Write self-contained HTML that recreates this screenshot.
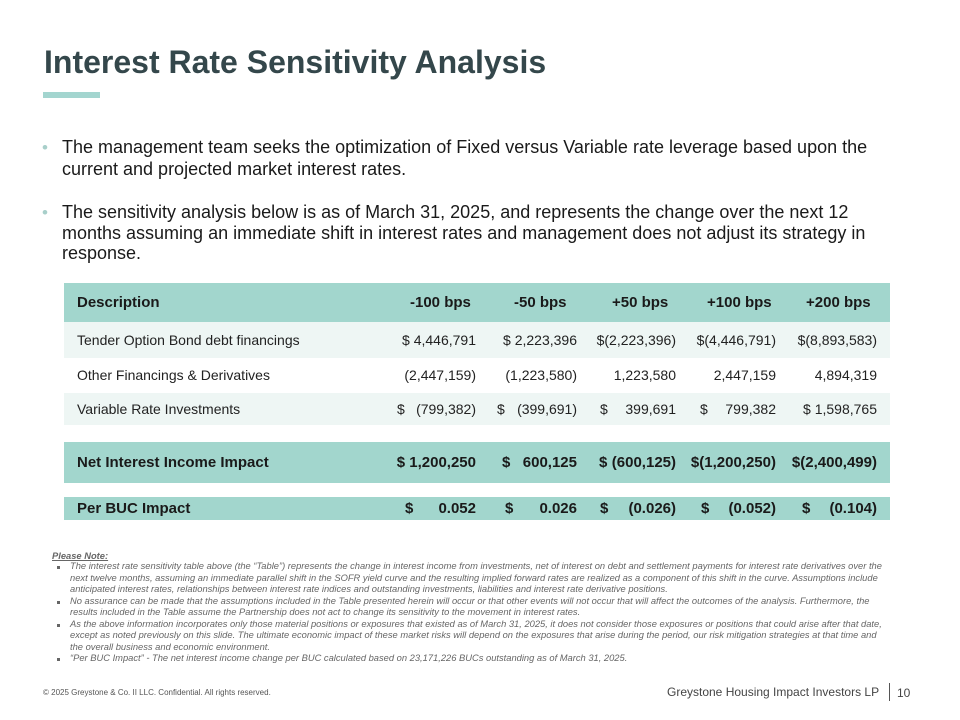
<!DOCTYPE html>
<html>
<head>
<meta charset="utf-8">
<style>
*{margin:0;padding:0;box-sizing:border-box;}
html,body{width:960px;height:720px;background:#fff;overflow:hidden;}
body{position:relative;font-family:"Liberation Sans",Arial,sans-serif;color:#222;}
.abs{position:absolute;}
.title{left:44px;top:46px;font-size:32px;line-height:32px;font-weight:bold;color:#34474b;white-space:nowrap;}
.bar{left:43px;top:92px;width:57px;height:6px;background:#a3d5cf;}
.bul{left:62px;font-size:18px;line-height:21.5px;color:#1a1a1a;white-space:nowrap;}
.dot{left:42px;font-size:17px;line-height:21.5px;color:#a8cfca;}
.row{position:absolute;left:64px;width:826px;}
.teal{background:#a2d6cd;}
.light{background:#eef6f4;}
.cell{position:absolute;white-space:nowrap;}
.lab{left:13px;}
.r{text-align:right;}
.notes{font-family:"Liberation Sans",Arial,sans-serif;font-style:italic;color:#666;font-size:9.35px;line-height:11.5px;white-space:nowrap;}
.sq{position:absolute;left:57px;width:3px;height:3px;background:#666;}
</style>
</head>
<body>

<div class="abs title">Interest Rate Sensitivity Analysis</div>
<div class="abs bar"></div>

<div class="abs dot" style="top:137px;">•</div>
<div class="abs bul" style="top:137px;">The management team seeks the optimization of Fixed versus Variable rate leverage based upon the<br>current and projected market interest rates.</div>
<div class="abs dot" style="top:202px;">•</div>
<div class="abs bul" style="top:202px;line-height:20.5px;">The sensitivity analysis below is as of March 31, 2025, and represents the change over the next 12<br>months assuming an immediate shift in interest rates and management does not adjust its strategy in<br>response.</div>

<!-- Header -->
<div class="row teal" style="top:283px;height:39px;font-weight:bold;font-size:15px;line-height:39px;color:#1a1a1a;">
  <div class="cell lab">Description</div>
  <div class="cell" style="left:346px;">-100 bps</div>
  <div class="cell" style="left:450px;">-50 bps</div>
  <div class="cell" style="left:548px;">+50 bps</div>
  <div class="cell" style="left:643px;">+100 bps</div>
  <div class="cell" style="left:742px;">+200 bps</div>
</div>

<!-- Row 1 -->
<div class="row light" style="top:322px;height:36px;font-size:14px;line-height:36px;color:#222;">
  <div class="cell lab">Tender Option Bond debt financings</div>
  <div class="cell r" style="right:414px;">$ 4,446,791</div>
  <div class="cell r" style="right:313px;">$ 2,223,396</div>
  <div class="cell r" style="right:214px;">$(2,223,396)</div>
  <div class="cell r" style="right:114px;">$(4,446,791)</div>
  <div class="cell r" style="right:13px;">$(8,893,583)</div>
</div>

<!-- Row 2 -->
<div class="row" style="top:358px;height:35px;font-size:14px;line-height:35px;color:#222;">
  <div class="cell lab">Other Financings &amp; Derivatives</div>
  <div class="cell r" style="right:414px;">(2,447,159)</div>
  <div class="cell r" style="right:313px;">(1,223,580)</div>
  <div class="cell r" style="right:214px;">1,223,580</div>
  <div class="cell r" style="right:114px;">2,447,159</div>
  <div class="cell r" style="right:13px;">4,894,319</div>
</div>

<!-- Row 3 -->
<div class="row light" style="top:393px;height:32px;font-size:14px;line-height:32px;color:#222;">
  <div class="cell lab">Variable Rate Investments</div>
  <div class="cell" style="left:333px;">$</div>
  <div class="cell r" style="right:414px;">(799,382)</div>
  <div class="cell" style="left:433px;">$</div>
  <div class="cell r" style="right:313px;">(399,691)</div>
  <div class="cell" style="left:536px;">$</div>
  <div class="cell r" style="right:214px;">399,691</div>
  <div class="cell" style="left:636px;">$</div>
  <div class="cell r" style="right:114px;">799,382</div>
  <div class="cell r" style="right:13px;">$ 1,598,765</div>
</div>

<!-- Net -->
<div class="row teal" style="top:442px;height:41px;font-size:15px;line-height:41px;font-weight:bold;color:#1a1a1a;">
  <div class="cell lab">Net Interest Income Impact</div>
  <div class="cell r" style="right:414px;">$ 1,200,250</div>
  <div class="cell" style="left:438px;">$</div>
  <div class="cell r" style="right:313px;">600,125</div>
  <div class="cell" style="left:535px;">$</div>
  <div class="cell r" style="right:214px;">(600,125)</div>
  <div class="cell r" style="right:114px;">$(1,200,250)</div>
  <div class="cell r" style="right:13px;">$(2,400,499)</div>
</div>

<!-- Per BUC -->
<div class="row teal" style="top:497px;height:23px;font-size:15px;line-height:23px;font-weight:bold;color:#1a1a1a;">
  <div class="cell lab">Per BUC Impact</div>
  <div class="cell" style="left:341px;">$</div>
  <div class="cell r" style="right:414px;">0.052</div>
  <div class="cell" style="left:441px;">$</div>
  <div class="cell r" style="right:313px;">0.026</div>
  <div class="cell" style="left:536px;">$</div>
  <div class="cell r" style="right:214px;">(0.026)</div>
  <div class="cell" style="left:637px;">$</div>
  <div class="cell r" style="right:114px;">(0.052)</div>
  <div class="cell" style="left:738px;">$</div>
  <div class="cell r" style="right:13px;">(0.104)</div>
</div>

<!-- Notes -->
<div class="abs notes" style="left:52px;top:551px;font-weight:bold;text-decoration:underline;">Please Note:</div>
<div class="sq" style="top:566px;"></div>
<div class="sq" style="top:601px;"></div>
<div class="sq" style="top:624px;"></div>
<div class="sq" style="top:658px;"></div>
<div class="abs notes" style="left:70px;top:561px;">
The interest rate sensitivity table above (the “Table”) represents the change in interest income from investments, net of interest on debt and settlement payments for interest rate derivatives over the<br>
next twelve months, assuming an immediate parallel shift in the SOFR yield curve and the resulting implied forward rates are realized as a component of this shift in the curve. Assumptions include<br>
anticipated interest rates, relationships between interest rate indices and outstanding investments, liabilities and interest rate derivative positions.<br>
No assurance can be made that the assumptions included in the Table presented herein will occur or that other events will not occur that will affect the outcomes of the analysis. Furthermore, the<br>
results included in the Table assume the Partnership does not act to change its sensitivity to the movement in interest rates.<br>
As the above information incorporates only those material positions or exposures that existed as of March 31, 2025, it does not consider those exposures or positions that could arise after that date,<br>
except as noted previously on this slide. The ultimate economic impact of these market risks will depend on the exposures that arise during the period, our risk mitigation strategies at that time and<br>
the overall business and economic environment.<br>
“Per BUC Impact” - The net interest income change per BUC calculated based on 23,171,226 BUCs outstanding as of March 31, 2025.
</div>

<!-- Footer -->
<div class="abs" style="left:43px;top:688px;font-size:8px;line-height:10px;color:#555;white-space:nowrap;">© 2025 Greystone &amp; Co. II LLC. Confidential. All rights reserved.</div>
<div class="abs" style="left:667px;top:684px;font-size:12px;line-height:16px;color:#444;white-space:nowrap;">Greystone Housing Impact Investors LP</div>
<div class="abs" style="left:889px;top:683px;width:1px;height:18px;background:#555;"></div>
<div class="abs" style="left:897px;top:685px;font-size:12px;line-height:16px;color:#444;">10</div>

</body>
</html>
